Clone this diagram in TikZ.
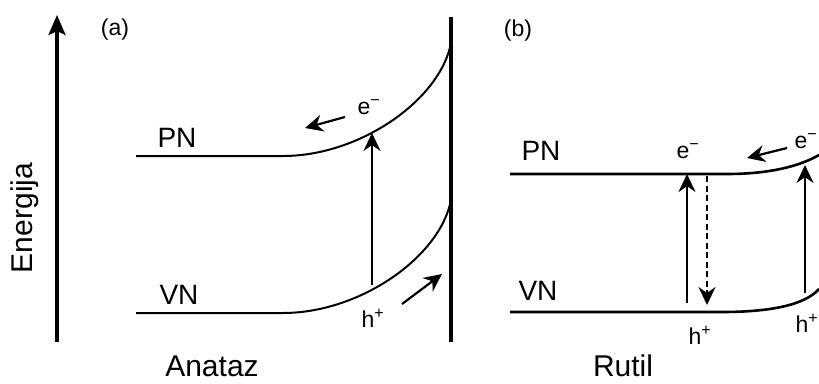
\documentclass[tikz,border=0pt]{standalone}
\usepackage{fontspec}
\setmainfont{Liberation Sans}
\usetikzlibrary{arrows.meta}
\tikzset{
  big/.style={font=\fontsize{30}{36}\selectfont, inner sep=0pt},
  band/.style={font=\fontsize{28}{32}\selectfont, inner sep=0pt},
  small/.style={font=\fontsize{23}{27}\selectfont, inner sep=0pt},
  carrier/.style={font=\fontsize{23}{27}\selectfont, inner sep=0pt},
  tip/.style={-{Stealth[length=18pt,width=17pt,inset=6pt]}},
  bandline/.style={line width=2pt},
  bandlineb/.style={line width=2.6pt},
}
\begin{document}
\begin{tikzpicture}[x=1pt,y=-1pt]
\useasboundingbox (0,0) rectangle (819,383);
% axis
\coordinate (eb) at (57,342);
\coordinate (et) at (57,15);
\draw[line width=3.6pt, -{Stealth[length=20pt,width=17pt,inset=4pt]}] (eb) -- (et);
\node[big, rotate=90] (energ) at (25,218) {Energija};
% panel (a)
\node[small] (la) at (115,30) {(a)};
\coordinate (wt) at (451,17);
\coordinate (wb) at (451,342);
\draw[line width=3.6pt] (wt) -- (wb);
\coordinate (pa0) at (136,156);
\coordinate (pa1) at (283,156);
\coordinate (pa2) at (451,43);
\draw[bandline] (pa0) -- (pa1) .. controls (360,156) and (440,100) .. (pa2);
\coordinate (va0) at (136,313);
\coordinate (va1) at (283,313);
\coordinate (va2) at (451,200);
\draw[bandline] (va0) -- (va1) .. controls (360,313) and (440,257) .. (va2);
\node[band] (pna) at (177,138) {PN};
\node[band] (vna) at (179,295) {VN};
\coordinate (ua0) at (372,285);
\coordinate (ua1) at (372,133);
\draw[line width=2pt, tip] (ua0) -- (ua1);
\node[carrier] (ea) at (369,107) {e\textsuperscript{−}};
\coordinate (ea0) at (345,117);
\coordinate (ea1) at (305,128);
\draw[line width=2.2pt, tip] (ea0) -- (ea1);
\node[carrier] (ha) at (373,318) {h\textsuperscript{+}};
\coordinate (ha0) at (402,304);
\coordinate (ha1) at (442,274);
\draw[line width=2.2pt, tip] (ha0) -- (ha1);
\node[big] (anat) at (212,366) {Anataz};
% panel (b)
\node[small] (lb) at (518,31) {(b)};
\coordinate (pb0) at (510,174);
\coordinate (pb1) at (727,174);
\coordinate (pb2) at (819,155);
\draw[bandlineb] (pb0) -- (pb1) .. controls (770,174) and (800,166) .. (pb2);
\coordinate (vb0) at (510,312);
\coordinate (vb1) at (722,312);
\coordinate (vb2) at (819,289);
\draw[bandlineb] (vb0) -- (vb1) .. controls (770,312) and (805,305) .. (vb2);
\node[band] (pnb) at (541,151) {PN};
\node[band] (vnb) at (538,291) {VN};
\coordinate (ub0) at (687,303);
\coordinate (ub1) at (687,174);
\draw[line width=2.8pt, tip] (ub0) -- (ub1);
\coordinate (db0) at (707,176);
\coordinate (db1) at (707,305);
\draw[line width=2.2pt, dash pattern=on 6pt off 3.5pt, tip] (db0) -- (db1);
\node[carrier] (eb1) at (688,151) {e\textsuperscript{−}};
\node[carrier] (hb1) at (700,335) {h\textsuperscript{+}};
\coordinate (rb0) at (805,293);
\coordinate (rb1) at (805,165);
\draw[line width=2.4pt, tip] (rb0) -- (rb1);
\node[carrier] (eb2) at (806,141) {e\textsuperscript{−}};
\coordinate (lb0) at (787,148);
\coordinate (lb1) at (747,158);
\draw[line width=2.2pt, tip] (lb0) -- (lb1);
\node[carrier] (hb2) at (807,323) {h\textsuperscript{+}};
\node[big] (rut) at (623,366) {Rutil};
\end{tikzpicture}
\end{document}
